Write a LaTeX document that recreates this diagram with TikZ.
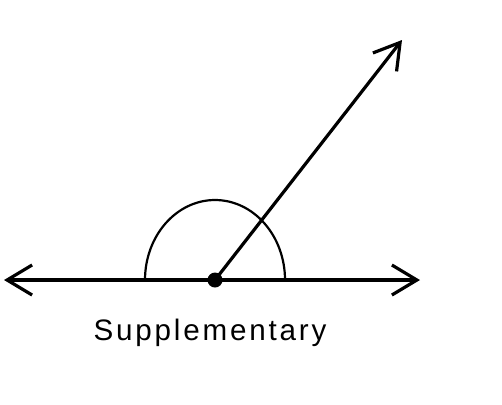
\documentclass[tikz,border=0pt]{standalone}
\usepackage{fontspec}
\setmainfont{Liberation Sans}
\newfontfamily\spacedfont[LetterSpace=9.5]{Liberation Sans}
\usetikzlibrary{arrows.meta}
\begin{document}
\begin{tikzpicture}[x=0.5pt,y=-0.5pt]
        \tikzstyle{ray} = [{Straight Barb[length=12.5pt,width=15pt]}-{Straight Barb[length=12.5pt,width=15pt]},draw=black,line width=1.6pt]
        \tikzstyle{arm} = [-{Straight Barb[length=12.5pt,width=15pt]},draw=black,line width=1.6pt]
        \tikzstyle{dot} = [circle,fill=black,inner sep=0pt,minimum size=7.5pt]
        \useasboundingbox (0,0) rectangle (502,404);
        \coordinate (left) at (4,280);
        \coordinate (right) at (420,280);
        \coordinate (tip) at (402,40);
        \node[dot] (vertex) at (215,280) {};
        \draw[line width=1.1pt] (145,280) arc[start angle=180,end angle=360,x radius=70,y radius=80];
        \draw[ray] (left) to (right);
        \draw[arm] (vertex.center) to (tip);
        \node[font=\spacedfont\fontsize{14.8}{17}\selectfont] (label) at (210,333) {Supplementary};
    \end{tikzpicture}
\end{document}
